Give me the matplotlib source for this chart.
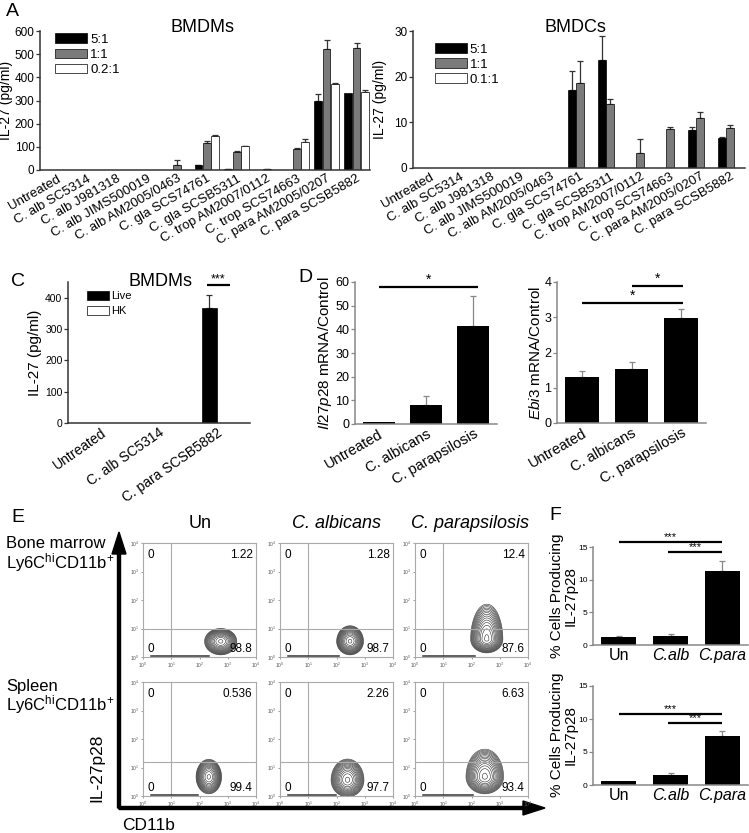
import numpy as np
import matplotlib
matplotlib.use('Agg')
import matplotlib.pyplot as plt

plt.rcParams['font.family'] = ['Liberation Sans', 'DejaVu Sans']
plt.rcParams['mathtext.fontset'] = 'custom'
plt.rcParams['mathtext.rm'] = 'Liberation Sans'
plt.rcParams['mathtext.it'] = 'Liberation Sans:italic'
plt.rcParams['mathtext.bf'] = 'Liberation Sans:bold'

W, H = 749, 833

# ---------------- data ----------------
strains = ['Untreated', 'C. alb SC5314', 'C. alb J981318', 'C. alb JIMS500019',
           'C. alb AM2005/0463', 'C. gla SCS74761', 'C. gla SCSB5311',
           'C. trop AM2007/0112', 'C. trop SCS74663', 'C. para AM2005/0207',
           'C. para SCSB5882']

# panel A, BMDMs
bmdm_ratios = ['5:1', '1:1', '0.2:1']
bmdm_5 = [0, 0, 0, 0, 0, 20, 5, 0, 0, 300, 333]
bmdm_5_err = [0, 0, 0, 0, 0, 3, 1, 0, 0, 28, 0]
bmdm_1 = [0, 0, 0, 0, 22, 118, 76, 3, 90, 522, 528]
bmdm_1_err = [0, 0, 0, 0, 20, 7, 4, 2, 6, 38, 22]
bmdm_02 = [0, 0, 0, 0, 0, 145, 103, 0, 120, 370, 335]
bmdm_02_err = [0, 0, 0, 0, 0, 8, 1, 0, 15, 6, 10]

# panel A, BMDCs
bmdc_ratios = ['5:1', '1:1', '0.1:1']
bmdc_5 = [0, 0, 0, 0, 0, 17.0, 23.7, 0, 0, 8.4, 6.5]
bmdc_5_err = [0, 0, 0, 0, 0, 4.2, 5.2, 0, 0, 0.6, 0.2]
bmdc_1 = [0, 0, 0, 0, 0, 18.6, 14.0, 3.2, 8.5, 11.0, 8.7]
bmdc_1_err = [0, 0, 0, 0, 0, 4.8, 1.2, 3.1, 0.5, 1.3, 0.8]
bmdc_01 = [0, 0, 0, 0, 0, 0, 0, 0, 0, 0, 0]
bmdc_01_err = [0, 0, 0, 0, 0, 0, 0, 0, 0, 0, 0]

# panel C
c_groups = ['Untreated', 'C. alb SC5314', 'C. para SCSB5882']
c_live = [0, 0, 368]
c_live_err = [0, 0, 40]
c_hk = [0, 0, 0]

# panel D
d_groups = ['Untreated', 'C. albicans', 'C. parapsilosis']
il27p28 = [1.0, 8.2, 41.5]
il27p28_err = [0, 3.8, 12.5]
ebi3 = [1.30, 1.52, 2.97]
ebi3_err = [0.17, 0.22, 0.27]

# panel E, flow quadrant percentages (upper right, lower right)
flow_cols = ['Un', 'C. albicans', 'C. parapsilosis']
flow_ur = [['1.22', '1.28', '12.4'], ['0.536', '2.26', '6.63']]
flow_lr = [['98.8', '98.7', '87.6'], ['99.4', '97.7', '93.4']]
# blob shape (log10 units): centre x, centre y, spread x, spread y below, spread y above
flow_blobs = [[(2.75, 0.55, 0.24, 0.20, 0.19), (2.48, 0.55, 0.20, 0.20, 0.23), (2.54, 0.62, 0.24, 0.20, 0.52)],
              [(2.33, 0.67, 0.19, 0.25, 0.26), (2.39, 0.56, 0.245, 0.25, 0.31), (2.47, 0.67, 0.28, 0.25, 0.41)]]
flow_gate_y = [1.0, 1.2]

# panel F
f_groups = ['Un', 'C.alb', 'C.para']
f_bm = [1.3, 1.45, 11.4]
f_bm_err = [0.1, 0.2, 1.4]
f_sp = [0.55, 1.45, 7.5]
f_sp_err = [0.0, 0.35, 0.7]

fig = plt.figure(figsize=(W / 100, H / 100), dpi=100)


def px_axes(left, top, right, bottom):
    return fig.add_axes([left / W, 1 - bottom / H, (right - left) / W, (bottom - top) / H])


def ftext(x, y, s, **kw):
    return fig.text(x / W, 1 - y / H, s, **kw)


def style_axes(ax, color='#333333', tick_size=8):
    for s in ['top', 'right']:
        ax.spines[s].set_visible(False)
    for s in ['left', 'bottom']:
        ax.spines[s].set_color(color)
        ax.spines[s].set_linewidth(1.1)
    ax.tick_params(axis='x', length=0, pad=2)
    ax.tick_params(axis='y', length=3, width=0.9, color=color, pad=1, labelsize=tick_size)


def draw_err(ax, x, y, e, color):
    x, y, e = np.asarray(x, float), np.asarray(y, float), np.asarray(e, float)
    m = e > 0
    if m.any():
        ax.errorbar(x[m], y[m], yerr=[np.zeros(m.sum()), e[m]], fmt='none', ecolor=color,
                    elinewidth=0.9, capsize=2, capthick=0.9, zorder=1)


def sig(ax, x0, x1, y, stars, fs=9):
    ax.plot([x0, x1], [y, y], color='black', lw=1.6, clip_on=False, solid_capstyle='butt')
    ax.text((x0 + x1) / 2, y, stars, ha='center', va='bottom', fontsize=fs, clip_on=False)


bar_colors = ['black', '#7a7a7a', 'white']
offsets = [-0.28, 0.0, 0.28]
x11 = np.arange(len(strains))

# ---------------- panel A ----------------
panelA = [
    (px_axes(40, 31, 370, 170), (-0.57, 10.45), (0, 600), [0, 100, 200, 300, 400, 500, 600],
     [bmdm_5, bmdm_1, bmdm_02], [bmdm_5_err, bmdm_1_err, bmdm_02_err], bmdm_ratios, 'BMDMs', 202,
     (0.03, 1.02), -0.082),
    (px_axes(413, 31, 745, 168), (-0.57, 10.5), (0, 30), [0, 10, 20, 30],
     [bmdc_5, bmdc_1, bmdc_01], [bmdc_5_err, bmdc_1_err, bmdc_01_err], bmdc_ratios, 'BMDCs', 575,
     (0.05, 0.95), -0.078),
]
for ax, xl, yl, yt, series, errs, ratios, title, tx, lpos, lab_x in panelA:
    for vals, e, fc, off, lab in zip(series, errs, bar_colors, offsets, ratios):
        ax.bar(x11 + off, vals, 0.26, color=fc, edgecolor='black', linewidth=0.5, label=lab, zorder=2)
        draw_err(ax, x11 + off, vals, e, '#333333')
    style_axes(ax, tick_size=8.5)
    ax.set_xlim(*xl)
    ax.set_ylim(*yl)
    ax.set_yticks(yt)
    ax.set_xticks(x11)
    ax.set_xticklabels(strains, rotation=30, ha='right', rotation_mode='anchor', fontsize=9.5)
    ax.set_ylabel('IL-27 (pg/ml)', fontsize=10)
    ax.yaxis.set_label_coords(lab_x, 0.5)
    ax.legend(loc='upper left', bbox_to_anchor=lpos, frameon=False, fontsize=9.5,
              handlelength=2.4, handleheight=0.75, labelspacing=0.2, handletextpad=0.25, borderaxespad=0)
    ftext(tx, 27, title, ha='center', va='center', fontsize=13)
ftext(12, 12, 'A', ha='center', va='center', fontsize=14)

# ---------------- panel C ----------------
axC = px_axes(68, 282, 250, 423)
x3 = np.arange(3)
axC.bar(x3 - 0.13, c_live, 0.26, color='black', edgecolor='black', linewidth=0.5, label='Live', zorder=2)
axC.bar(x3 + 0.13, c_hk, 0.26, color='white', edgecolor='black', linewidth=0.5, label='HK', zorder=2)
draw_err(axC, x3 - 0.13, c_live, c_live_err, '#333333')
style_axes(axC, tick_size=7.5)
axC.set_xlim(-0.57, 2.57)
axC.set_ylim(0, 451)
axC.set_yticks([0, 100, 200, 300, 400])
axC.set_xticks(x3)
axC.set_xticklabels(c_groups, rotation=35, ha='right', rotation_mode='anchor', fontsize=10)
axC.set_ylabel('IL-27 (pg/ml)', fontsize=11, labelpad=2)
axC.legend(loc='upper left', bbox_to_anchor=(0.08, 0.97), frameon=False, fontsize=8,
           handlelength=2.0, handleheight=0.9, labelspacing=0.4, handletextpad=0.2, borderaxespad=0)
sig(axC, 1.83, 2.22, 441, '***', fs=9)
ftext(160, 281, 'BMDMs', ha='center', va='center', fontsize=13)
ftext(18, 282, 'C', ha='center', va='center', fontsize=14)

# ---------------- panel D ----------------
panelD = [
    (px_axes(355, 282, 497, 424), il27p28, il27p28_err, (0, 60), [0, 10, 20, 30, 40, 50, 60],
     r'$\mathit{Il27p28}$ mRNA/Control', [(0.0, 2.1, 57.9)]),
    (px_axes(557, 282, 706, 423), ebi3, ebi3_err, (0, 4), [0, 1, 2, 3, 4],
     r'$\mathit{Ebi3}$ mRNA/Control', [(1.0, 2.04, 3.89), (0.0, 2.04, 3.40)]),
]
for ax, vals, e, yl, yt, ylab, sigs in panelD:
    ax.bar(x3, vals, 0.68, color='black', zorder=2)
    draw_err(ax, x3, vals, e, '#888888')
    style_axes(ax, color='#888888', tick_size=9)
    ax.set_xlim(-0.5, 2.5)
    ax.set_ylim(*yl)
    ax.set_yticks(yt)
    ax.set_xticks(x3)
    ax.set_xticklabels(d_groups, rotation=30, ha='right', rotation_mode='anchor', fontsize=10.5)
    ax.set_ylabel(ylab, fontsize=11, labelpad=1)
    for x0, x1, y in sigs:
        sig(ax, x0, x1, y, '*', fs=10)
ftext(305, 277, 'D', ha='center', va='center', fontsize=14)

# ---------------- panel E ----------------
gx = np.linspace(0, 4, 300)
GX, GY = np.meshgrid(gx, gx)
levels = np.geomspace(0.06, 0.95, 15)
flow_left = [143, 280, 415]
flow_top = [543, 682]
for r in range(2):
    for c in range(3):
        ax = px_axes(flow_left[c], flow_top[r], flow_left[c] + 113, flow_top[r] + 114)
        cx, cy, sx, sy_d, sy_u = flow_blobs[r][c]
        sy = np.where(GY > cy, sy_u, sy_d)
        z = np.exp(-0.5 * ((GX - cx) / sx) ** 2 - 0.5 * ((GY - cy) / sy) ** 2)
        ax.contour(10 ** GX, 10 ** GY, z, levels=levels, colors='#2a2a2a', linewidths=0.4)
        ax.set_xscale('log')
        ax.set_yscale('log')
        ax.set_xlim(1, 1e4)
        ax.set_ylim(1, 1e4)
        ax.axvline(10, color='#aaaaaa', lw=0.8)
        ax.axhline(10 ** flow_gate_y[r], color='#aaaaaa', lw=0.8)
        ax.plot([10 ** 0.3, 10 ** (cx - 0.4)], [1.06, 1.06], color='#333333', lw=1.1)
        dec = [1, 10, 100, 1000, 10000]
        declab = [r'$10^{%d}$' % i for i in range(5)]
        ax.set_xticks(dec)
        ax.set_xticklabels(declab)
        ax.set_yticks(dec)
        ax.set_yticklabels(declab)
        ax.minorticks_off()
        ax.tick_params(labelsize=3.5, length=1.5, width=0.4, pad=1, colors='#555555')
        for s in ax.spines.values():
            s.set_color('#aaaaaa')
            s.set_linewidth(0.8)
        ax.text(0.04, 0.95, '0', transform=ax.transAxes, ha='left', va='top', fontsize=8.5)
        ax.text(0.97, 0.95, flow_ur[r][c], transform=ax.transAxes, ha='right', va='top', fontsize=8.5)
        ax.text(0.04, 0.02, '0', transform=ax.transAxes, ha='left', va='bottom', fontsize=8.5)
        ax.text(0.97, 0.02, flow_lr[r][c], transform=ax.transAxes, ha='right', va='bottom', fontsize=8.5)

ftext(200, 523, flow_cols[0], ha='center', va='center', fontsize=13)
ftext(337, 523, flow_cols[1], ha='center', va='center', fontsize=13, style='italic')
ftext(470, 523, flow_cols[2], ha='center', va='center', fontsize=13, style='italic')
ftext(18, 517, 'E', ha='center', va='center', fontsize=14)
ftext(6, 543, 'Bone marrow', ha='left', va='center', fontsize=12)
ftext(6, 563, r'Ly6C$^{\mathrm{hi}}$CD11b$^{+}$', ha='left', va='center', fontsize=12)
ftext(6, 686, 'Spleen', ha='left', va='center', fontsize=12)
ftext(6, 705, r'Ly6C$^{\mathrm{hi}}$CD11b$^{+}$', ha='left', va='center', fontsize=12)
ftext(97, 768, 'IL-27p28', ha='center', va='center', fontsize=12.5, rotation=90)
ftext(122, 826, 'CD11b', ha='left', va='center', fontsize=12.5)

# axis arrows for the flow grid
ax0 = fig.add_axes([0, 0, 1, 1], zorder=-1)
ax0.set_xlim(0, W)
ax0.set_ylim(H, 0)
ax0.axis('off')
ax0.arrow(119, 808, 0, -276, width=3, head_width=14, head_length=22,
          length_includes_head=True, color='black')
ax0.arrow(119, 808, 426, 0, width=3, head_width=14, head_length=22,
          length_includes_head=True, color='black')

# ---------------- panel F ----------------
panelF = [
    (px_axes(593, 547, 748, 645), f_bm, f_bm_err, [(0, 2.0, 15.8), (0.95, 2.0, 14.2)]),
    (px_axes(593, 686, 748, 785), f_sp, f_sp_err, [(0, 2.0, 10.75), (0.95, 2.0, 9.4)]),
]
for ax, vals, e, sigs in panelF:
    ax.bar(x3, vals, 0.68, color='black', zorder=2)
    draw_err(ax, x3, vals, e, '#888888')
    style_axes(ax, color='#888888', tick_size=6)
    ax.set_xlim(-0.5, 2.5)
    ax.set_ylim(0, 15)
    ax.set_yticks([0, 5, 10, 15])
    ax.set_xticks(x3)
    ax.set_xticklabels(f_groups, fontsize=11.5)
    for t in ax.get_xticklabels()[1:]:
        t.set_fontstyle('italic')
    for x0, x1, y in sigs:
        sig(ax, x0, x1, y, '***', fs=8)
ftext(564, 596, '% Cells Producing\nIL-27p28', ha='center', va='center', fontsize=11,
      rotation=90, multialignment='center', linespacing=1.0)
ftext(564, 735, '% Cells Producing\nIL-27p28', ha='center', va='center', fontsize=11,
      rotation=90, multialignment='center', linespacing=1.0)
ftext(555, 515, 'F', ha='center', va='center', fontsize=14)

fig.savefig('out.png', dpi=100)
